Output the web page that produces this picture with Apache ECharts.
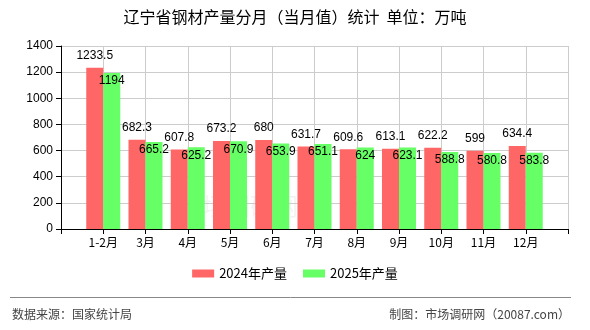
<!DOCTYPE html>
<html>
<head>
<meta charset="utf-8">
<script src="https://cdn.jsdelivr.net/npm/echarts@6/dist/echarts.min.js"></script>
<style>
  html, body { margin: 0; padding: 0; background: #fff; }
  #chart { width: 590px; height: 330px; }
</style>
</head>
<body>
<div id="chart"></div>
<script>
// months, padded with an empty slot at each end (bars sit on the ticks)
const months = ['', '1-2月', '3月', '4月', '5月', '6月', '7月', '8月', '9月', '10月', '11月', '12月', ''];
const output2024 = ['-', 1233.5, 682.3, 607.8, 673.2, 680, 631.7, 609.6, 613.1, 622.2, 599, 634.4, '-'];
const output2025 = ['-', 1194, 665.2, 625.2, 670.9, 653.9, 651.1, 624, 623.1, 588.8, 580.8, 583.8, '-'];
const seriesNames = ['2024年产量', '2025年产量'];

const FONT = '"Liberation Sans", "Noto Sans CJK SC", sans-serif';
const CJK = '"Noto Sans CJK SC", sans-serif';

const chart = echarts.init(document.getElementById('chart'));

const option = {
  animation: false,
  title: {
    text: '辽宁省钢材产量分月（当月值）统计  单位：万吨',
    left: 'center',
    top: 4,
    textStyle: { fontFamily: CJK, fontSize: 16, fontWeight: 'normal', color: '#000' }
  },
  legend: {
    bottom: 45,
    left: 'center',
    itemWidth: 22,
    itemHeight: 8,
    itemGap: 16,
    icon: 'rect',
    textStyle: { fontFamily: CJK, fontSize: 13, color: '#000' },
    data: seriesNames
  },
  grid: { left: 61, right: 22, top: 46, bottom: 101 },
  xAxis: {
    type: 'category',
    boundaryGap: false,
    data: months,
    axisLine: { lineStyle: { color: '#000', width: 1 } },
    axisTick: { show: true, length: 5, lineStyle: { color: '#000' } },
    axisLabel: { color: '#000', fontFamily: CJK, fontSize: 12, margin: 7 },
    splitLine: { show: true, lineStyle: { color: '#ccc' } }
  },
  yAxis: {
    type: 'value',
    min: 0,
    max: 1400,
    interval: 200,
    axisLine: { show: true, lineStyle: { color: '#000', width: 1 } },
    axisTick: { show: true, length: 5, lineStyle: { color: '#000' } },
    axisLabel: { color: '#000', fontFamily: FONT, fontSize: 12, margin: 8, formatter: v => String(v) },
    splitLine: { show: true, lineStyle: { color: '#ccc' } }
  },
  graphic: [
    {
      type: 'text',
      left: 178,
      top: 194,
      silent: true,
      style: { text: '市场调研网', fontFamily: CJK, fontSize: 24, fill: 'rgba(0,0,0,0.05)' }
    },
    {
      type: 'line',
      shape: { x1: 10, y1: 297.5, x2: 571, y2: 297.5 },
      style: { stroke: '#888', lineWidth: 1 }
    },
    {
      type: 'text',
      left: 12,
      top: 308,
      style: { text: '数据来源：国家统计局', fontFamily: CJK, fontSize: 12, fill: '#444' }
    },
    {
      type: 'text',
      right: 20,
      top: 308,
      style: { text: '制图：市场调研网（20087.com）', fontFamily: CJK, fontSize: 12, fill: '#444' }
    }
  ],
  series: [
    {
      name: seriesNames[0],
      type: 'bar',
      data: output2024,
      barWidth: 17,
      barGap: '0%',
      itemStyle: { color: '#ff6666' },
      label: {
        show: true,
        position: 'top',
        distance: 6,
        color: '#000',
        fontFamily: FONT,
        fontSize: 12
      }
    },
    {
      name: seriesNames[1],
      type: 'bar',
      data: output2025,
      barWidth: 17,
      barGap: '0%',
      itemStyle: { color: '#66ff66' },
      label: {
        show: true,
        position: 'insideTop',
        distance: 2,
        color: '#000',
        fontFamily: FONT,
        fontSize: 12
      }
    }
  ]
};

chart.setOption(option);
</script>
</body>
</html>
